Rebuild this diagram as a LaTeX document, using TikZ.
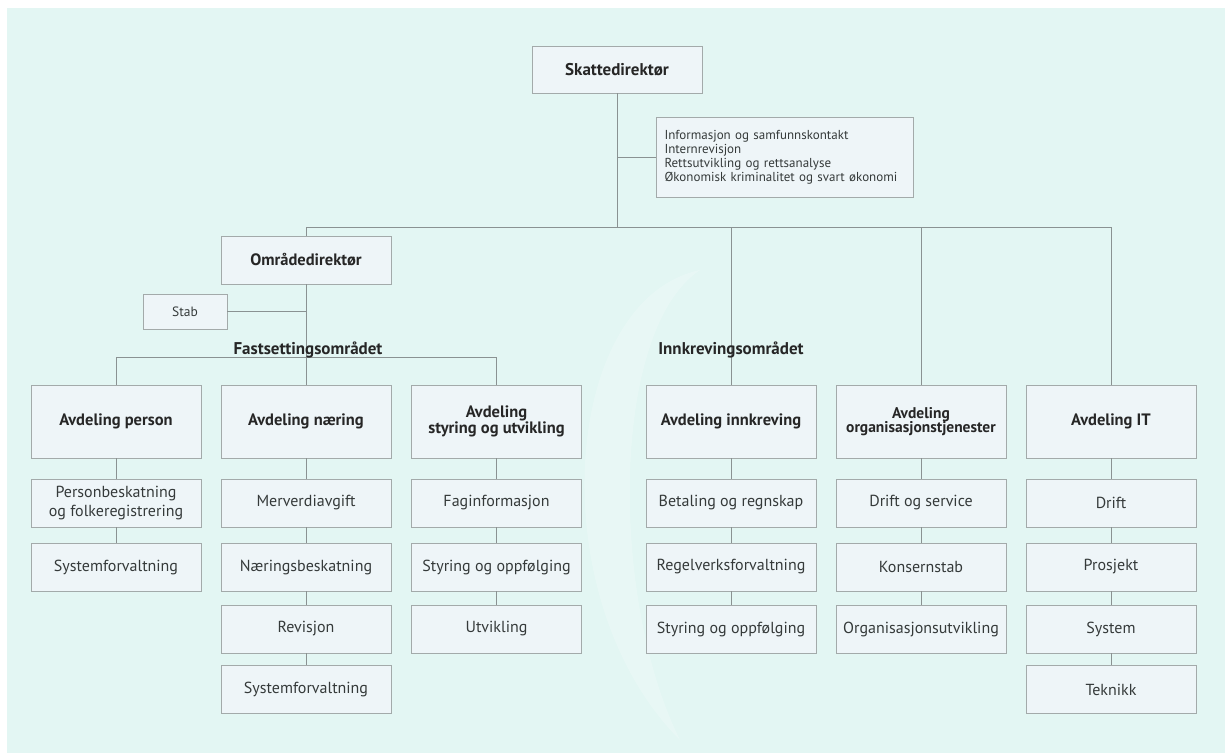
\documentclass[tikz,border=0pt]{standalone}
\usepackage{fontspec}
\setmainfont{PT Sans}
\definecolor{bgcyan}{HTML}{E3F6F3}
\definecolor{boxfill}{HTML}{EEF5F8}
\definecolor{boxline}{HTML}{A3AAAA}
\definecolor{linkgray}{HTML}{8A9292}
\definecolor{inkgray}{HTML}{353A3A}

\begin{document}
\begin{tikzpicture}[x=1pt,y=-1pt,
  box/.style={draw=boxline,fill=boxfill,minimum width=170pt,minimum height=48pt,
    inner sep=1pt,align=center,text=inkgray,font=\fontsize{16}{19.5}\selectfont},
  dept/.style={box,minimum height=73pt,text=black!85,
    font=\bfseries\fontsize{16.5}{15}\selectfont},
  head/.style={box,text=black!85,font=\bfseries\fontsize{17}{17}\selectfont},
  area/.style={text=black!85,font=\bfseries\fontsize{17}{17}\selectfont},
  link/.style={draw=linkgray,line width=.9pt}]
  \useasboundingbox (0,0) rectangle (1225,753);
  \fill[bgcyan] (7,8) rectangle (1225,753);
  % faint swoosh in the background
  \fill[white,opacity=.2] (700,270) .. controls (560,300) and (540,600) .. (680,740)
    .. controls (610,600) and (610,330) .. (700,270);

  % top
  \node[head,minimum height=47pt] (skatt) at (617,69.5) {Skattedirektør};
  \node[box,minimum width=257pt,minimum height=80pt,text width=240pt,align=left,
    font=\fontsize{13}{14}\selectfont] (stabsenh) at (784.5,157)
    {Informasjon og samfunnskontakt\\Internrevisjon\\
     Rettsutvikling og rettsanalyse\\Økonomisk kriminalitet og svart økonomi};
  \node[head,font=\bfseries\fontsize{16.5}{16.5}\selectfont] (omr) at (306,260) {Områdedirektør};
  \node[box,minimum width=84pt,minimum height=35pt,font=\fontsize{13.5}{13.5}\selectfont]
    (stab) at (185,311.5) {Stab};
  \coordinate (bus) at (617,227);
  \coordinate (fbus) at (306,357);

  % departments
  \node[dept] (person) at (116,421.5) {Avdeling person};
  \node[dept] (naering) at (306,421.5) {Avdeling næring};
  \node[dept] (styring) at (496.5,421.5) {Avdeling\\styring og utvikling};
  \node[dept] (innkr) at (731,421.5) {Avdeling innkreving};
  \node[dept,font=\bfseries\fontsize{15.5}{14.5}\selectfont] (orgtj) at (921,421.5)
    {Avdeling\\organisasjonstjenester};
  \node[dept] (it) at (1111,421.5) {Avdeling IT};

  % units
  \node[box] (person1) at (116,503) {Personbeskatning\\og folkeregistrering};
  \node[box] (person2) at (116,567) {Systemforvaltning};
  \node[box] (naering1) at (306,503) {Merverdiavgift};
  \node[box] (naering2) at (306,567) {Næringsbeskatning};
  \node[box] (naering3) at (306,629) {Revisjon};
  \node[box] (naering4) at (306,689.5) {Systemforvaltning};
  \node[box] (styring1) at (496.5,503) {Faginformasjon};
  \node[box] (styring2) at (496.5,567) {Styring og oppfølging};
  \node[box] (styring3) at (496.5,629) {Utvikling};
  \node[box] (innkr1) at (731,503) {Betaling og regnskap};
  \node[box] (innkr2) at (731,567) {Regelverksforvaltning};
  \node[box] (innkr3) at (731,629) {Styring og oppfølging};
  \node[box] (orgtj1) at (921,503) {Drift og service};
  \node[box] (orgtj2) at (921,567) {Konsernstab};
  \node[box] (orgtj3) at (921,629) {Organisasjonsutvikling};
  \node[box] (it1) at (1111,503) {Drift};
  \node[box] (it2) at (1111,567) {Prosjekt};
  \node[box] (it3) at (1111,629) {System};
  \node[box] (it4) at (1111,689.5) {Teknikk};

  % connectors
  \draw[link] (skatt.south) -- (skatt.south |- bus);
  \draw[link] (skatt.south |- stabsenh.west) -- (stabsenh.west);
  \draw[link] (omr.north |- bus) -- (it.north |- bus);
  \draw[link] (omr.north |- bus) -- (omr.north);
  \draw[link] (innkr.north |- bus) -- (innkr.north);
  \draw[link] (orgtj.north |- bus) -- (orgtj.north);
  \draw[link] (it.north |- bus) -- (it.north);
  \draw[link] (omr.south) -- (fbus);
  \draw[link] (stab.east) -- (omr.south |- stab.east);
  \draw[link] (person.north |- fbus) -- (styring.north |- fbus);
  \draw[link] (person.north |- fbus) -- (person.north);
  \draw[link] (naering.north |- fbus) -- (naering.north);
  \draw[link] (styring.north |- fbus) -- (styring.north);
  \draw[link] (person) -- (person1) (person1) -- (person2);
  \draw[link] (naering) -- (naering1) (naering1) -- (naering2)
    (naering2) -- (naering3) (naering3) -- (naering4);
  \draw[link] (styring) -- (styring1) (styring1) -- (styring2) (styring2) -- (styring3);
  \draw[link] (innkr) -- (innkr1) (innkr1) -- (innkr2) (innkr2) -- (innkr3);
  \draw[link] (orgtj) -- (orgtj1) (orgtj1) -- (orgtj2) (orgtj2) -- (orgtj3);
  \draw[link] (it) -- (it1) (it1) -- (it2) (it2) -- (it3) (it3) -- (it4);

  % area labels
  \node[area] (fast) at (308,350) {Fastsettingsområdet};
  \node[area] (innkomr) at (731,350) {Innkrevingsområdet};
\end{tikzpicture}
\end{document}
